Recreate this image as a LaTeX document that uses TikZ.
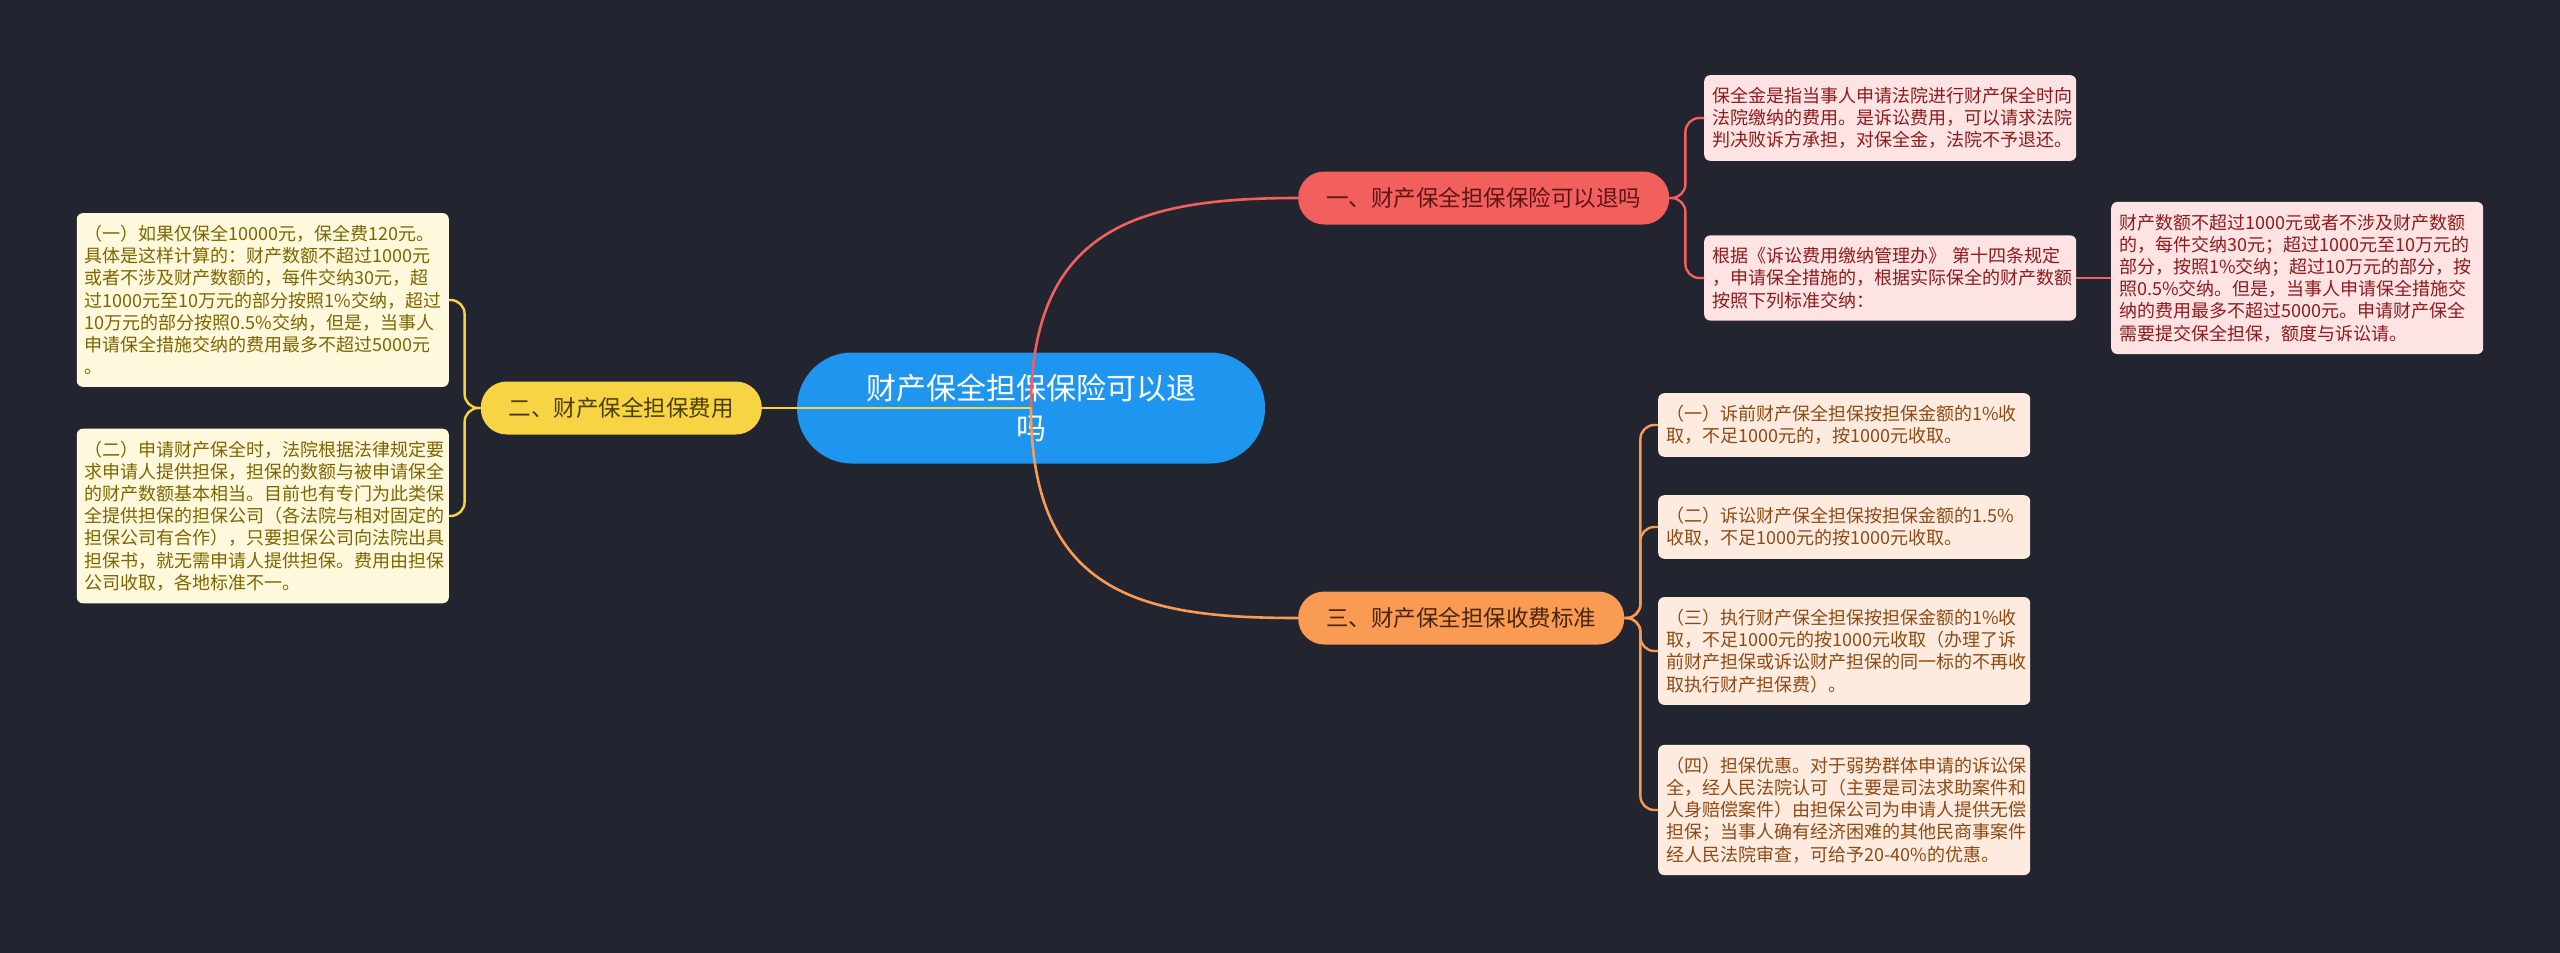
\documentclass[tikz,border=0pt]{standalone}
\usepackage{fontspec}
\setmainfont{Noto Sans CJK SC}
\usepackage{tikz}
\usetikzlibrary{positioning}
\definecolor{bg}{HTML}{22252F}
\definecolor{rootblue}{HTML}{1E96EF}
\definecolor{rmain}{HTML}{F2605E}
\definecolor{omain}{HTML}{F99B52}
\definecolor{ymain}{HTML}{F6D443}
\definecolor{rsoft}{HTML}{FDE3E3}
\definecolor{osoft}{HTML}{FDEBDF}
\definecolor{ysoft}{HTML}{FEF8DC}
\definecolor{rtext}{HTML}{8E1B1B}
\definecolor{otext}{HTML}{8E4A14}
\definecolor{ytext}{HTML}{7F6500}
\definecolor{rdark}{HTML}{5E1414}
\definecolor{odark}{HTML}{4A2410}
\definecolor{ydark}{HTML}{4A3E00}

\begin{document}
\begin{tikzpicture}[x=1pt,y=-1pt,
  root/.style={rectangle,rounded corners=55pt,fill=rootblue,text=white,minimum width=468pt,minimum height=111pt,align=center,font=\fontsize{30}{40}\selectfont},
  br/.style={rectangle,rounded corners=26pt,inner xsep=28pt,minimum height=53pt,font=\fontsize{22.5}{27}\selectfont},
  leaf/.style={rectangle,rounded corners=6pt,inner xsep=8pt,inner ysep=12pt,text width=356pt,align=left,font=\fontsize{18}{22.2}\selectfont},
  rleaf/.style={leaf,fill=rsoft,text=rtext},
  oleaf/.style={leaf,fill=osoft,text=otext},
  yleaf/.style={leaf,fill=ysoft,text=ytext},
  link/.style={line width=2.6pt},
  fork/.style={line width=2.4pt,rounded corners=14pt}]
  \fill[bg] (0,0) rectangle (2560,953);
  \useasboundingbox (0,0) rectangle (2560,953);
  % centre and main branches
  \node[root] (root) at (1031,408) {财产保全担保保险可以退\\吗};
  \node[br,fill=rmain,text=rdark,anchor=west] (b1) at (1298,198) {一、财产保全担保保险可以退吗};
  \node[br,fill=ymain,text=ydark,anchor=east] (b2) at (762,408) {二、财产保全担保费用};
  \node[br,fill=omain,text=odark,anchor=west] (b3) at (1298,618) {三、财产保全担保收费标准};
  % branch one
  \node[rleaf,anchor=west] (r1) at (1704,118) {保全金是指当事人申请法院进行财产保全时向\\
法院缴纳的费用。是诉讼费用，可以请求法院\\
判决败诉方承担，对保全金，法院不予退还。};
  \node[rleaf,anchor=west] (r2) at (1704,278) {根据《诉讼费用缴纳管理办》 第十四条规定\\
，申请保全措施的，根据实际保全的财产数额\\
按照下列标准交纳：};
  \node[rleaf,anchor=west] (r3) at (2111,278) {财产数额不超过1000元或者不涉及财产数额\\
的，每件交纳30元；超过1000元至10万元的\\
部分，按照1\%交纳；超过10万元的部分，按\\
照0.5\%交纳。但是，当事人申请保全措施交\\
纳的费用最多不超过5000元。申请财产保全\\
需要提交保全担保，额度与诉讼请。};
  % branch two
  \node[yleaf,anchor=east] (y1) at (449,300) {（一）如果仅保全10000元，保全费120元。\\
具体是这样计算的：财产数额不超过1000元\\
或者不涉及财产数额的，每件交纳30元，超\\
过1000元至10万元的部分按照1\%交纳，超过\\
10万元的部分按照0.5\%交纳，但是，当事人\\
申请保全措施交纳的费用最多不超过5000元\\
。};
  \node[yleaf,anchor=east] (y2) at (449,516) {（二）申请财产保全时，法院根据法律规定要\\
求申请人提供担保，担保的数额与被申请保全\\
的财产数额基本相当。目前也有专门为此类保\\
全提供担保的担保公司（各法院与相对固定的\\
担保公司有合作），只要担保公司向法院出具\\
担保书，就无需申请人提供担保。费用由担保\\
公司收取，各地标准不一。};
  % branch three
  \node[oleaf,anchor=west] (o1) at (1658,425) {（一）诉前财产保全担保按担保金额的1\%收\\
取，不足1000元的，按1000元收取。};
  \node[oleaf,anchor=west] (o2) at (1658,527) {（二）诉讼财产保全担保按担保金额的1.5\%\\
收取，不足1000元的按1000元收取。};
  \node[oleaf,anchor=west] (o3) at (1658,651) {（三）执行财产保全担保按担保金额的1\%收\\
取，不足1000元的按1000元收取（办理了诉\\
前财产担保或诉讼财产担保的同一标的不再收\\
取执行财产担保费）。};
  \node[oleaf,anchor=west] (o4) at (1658,810) {（四）担保优惠。对于弱势群体申请的诉讼保\\
全，经人民法院认可（主要是司法求助案件和\\
人身赔偿案件）由担保公司为申请人提供无偿\\
担保；当事人确有经济困难的其他民商事案件\\
经人民法院审查，可给予20-40\%的优惠。};
  % connectors
  \draw[link,rmain] (root.center) .. controls +(0,-180) and +(-160,0) .. (b1.west);
  \draw[link,omain] (root.center) .. controls +(0,190) and +(-150,0) .. (b3.west);
  \draw[link,ymain] (root.center) -- (b2.east);
  \draw[fork,rmain] (b1.east) -- ++(16,0) |- (r1.west);
  \draw[fork,rmain] (b1.east) -- ++(16,0) |- (r2.west);
  \draw[link,rmain] (r2.east) -- (r3.west);
  \draw[fork,ymain] (b2.west) -- ++(-16,0) |- (y1.east);
  \draw[fork,ymain] (b2.west) -- ++(-16,0) |- (y2.east);
  \foreach \n in {o1,o2,o3,o4}
    \draw[fork,omain] (b3.east) -- ++(16,0) |- (\n.west);
\end{tikzpicture}
\end{document}
